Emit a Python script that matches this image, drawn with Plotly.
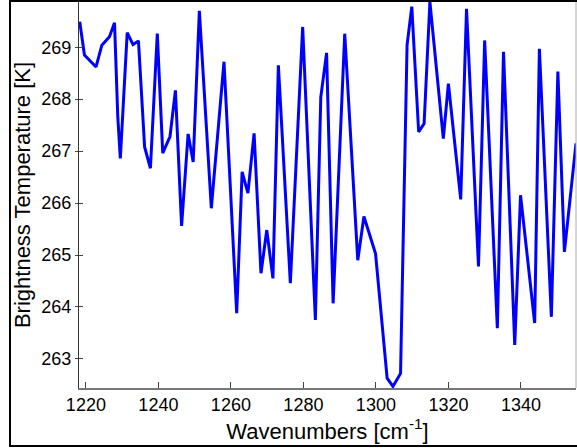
import plotly.graph_objects as go

wavenumber = [1218.3, 1219.6, 1222.8, 1224.4, 1226.5, 1227.9, 1228.8, 1229.5, 1231.4, 1233.0,
              1234.5, 1236.2, 1237.8, 1239.7, 1241.2, 1243.2, 1244.7, 1246.4, 1248.2, 1249.6,
              1251.3, 1254.6, 1258.1, 1261.6, 1263.1, 1264.7, 1266.4, 1268.3, 1269.9, 1271.6,
              1273.1, 1276.4, 1279.8, 1283.3, 1284.8, 1286.4, 1288.2, 1291.4, 1295.0, 1296.7,
              1299.9, 1303.1, 1304.7, 1306.8, 1308.6, 1309.9, 1311.8, 1313.3, 1314.9, 1318.6,
              1320.0, 1323.4, 1325.0, 1328.3, 1330.0, 1333.5, 1335.2, 1338.3, 1339.9, 1343.8,
              1345.1, 1348.4, 1350.2, 1352.0, 1355.2]
brightness_temp = [269.49, 268.85, 268.62, 269.04, 269.20, 269.47, 267.66, 266.86, 269.28, 269.05,
                   269.12, 267.08, 266.67, 269.26, 266.96, 267.28, 268.17, 265.56, 267.33, 266.79,
                   269.70, 265.90, 268.72, 263.88, 266.60, 266.19, 267.34, 264.65, 265.48, 264.55,
                   268.65, 264.46, 269.39, 263.75, 268.04, 268.89, 264.07, 269.26, 264.90, 265.74,
                   265.03, 262.63, 262.47, 262.72, 269.04, 269.78, 267.37, 267.53, 269.87, 267.24,
                   268.30, 266.07, 269.74, 264.78, 269.13, 263.59, 268.91, 263.27, 266.15, 263.69,
                   268.97, 263.81, 268.53, 265.06, 267.15]

x_ticks = [1220, 1240, 1260, 1280, 1300, 1320, 1340]
y_ticks = [263, 264, 265, 266, 267, 268, 269]
x_range = [1218.1, 1355.2]
y_range = [262.44, 269.87]

FONT = "Liberation Sans, Arial, sans-serif"

fig = go.Figure()
fig.add_trace(go.Scatter(x=wavenumber, y=brightness_temp, mode="lines",
                         line=dict(color="#0000ff", width=3), showlegend=False))
# invisible trace on overlay axes so they render
fig.add_trace(go.Scatter(x=x_range, y=y_range, mode="lines", xaxis="x", yaxis="y2",
                         line=dict(width=0), hoverinfo="skip", showlegend=False))

fig.update_layout(
    width=577, height=448,
    margin=dict(l=79, r=1, t=2, b=60),
    paper_bgcolor="white", plot_bgcolor="white",
    font=dict(family=FONT, size=18, color="black"),
    xaxis=dict(range=x_range, tickvals=x_ticks, ticks="inside", ticklen=6,
               tickcolor="#444", showline=True, linecolor="#777", linewidth=1.5,
               mirror=False, showgrid=False, zeroline=False,
               tickfont=dict(size=18),
               title=dict(text="Wavenumbers [cm<sup>-1</sup>]", font=dict(size=22), standoff=6)),
    yaxis=dict(range=y_range, tickvals=y_ticks, ticks="outside", ticklen=3,
               tickcolor="#444", showline=True, linecolor="#333", linewidth=1,
               showgrid=False, zeroline=False, tickfont=dict(size=18),
               title=dict(text="Brightness Temperature [K]", font=dict(size=22), standoff=4)),
    yaxis2=dict(range=y_range, tickvals=y_ticks, ticks="inside", ticklen=4,
                tickcolor="#444", showticklabels=False, overlaying="y", side="left",
                showline=False, showgrid=False, zeroline=False),
    shapes=[
        dict(type="line", xref="paper", yref="paper", x0=1.0, x1=1.0, y0=0, y1=1,
             line=dict(color="#aaa", width=1)),
        dict(type="rect", xref="paper", yref="paper",
             x0=(10 - 79) / 497, x1=1.05, y0=(388 - 446) / 386, y1=(388 - 1) / 386,
             line=dict(color="black", width=2), fillcolor="rgba(0,0,0,0)", layer="above"),
    ],
)

fig.write_html("out.html")
